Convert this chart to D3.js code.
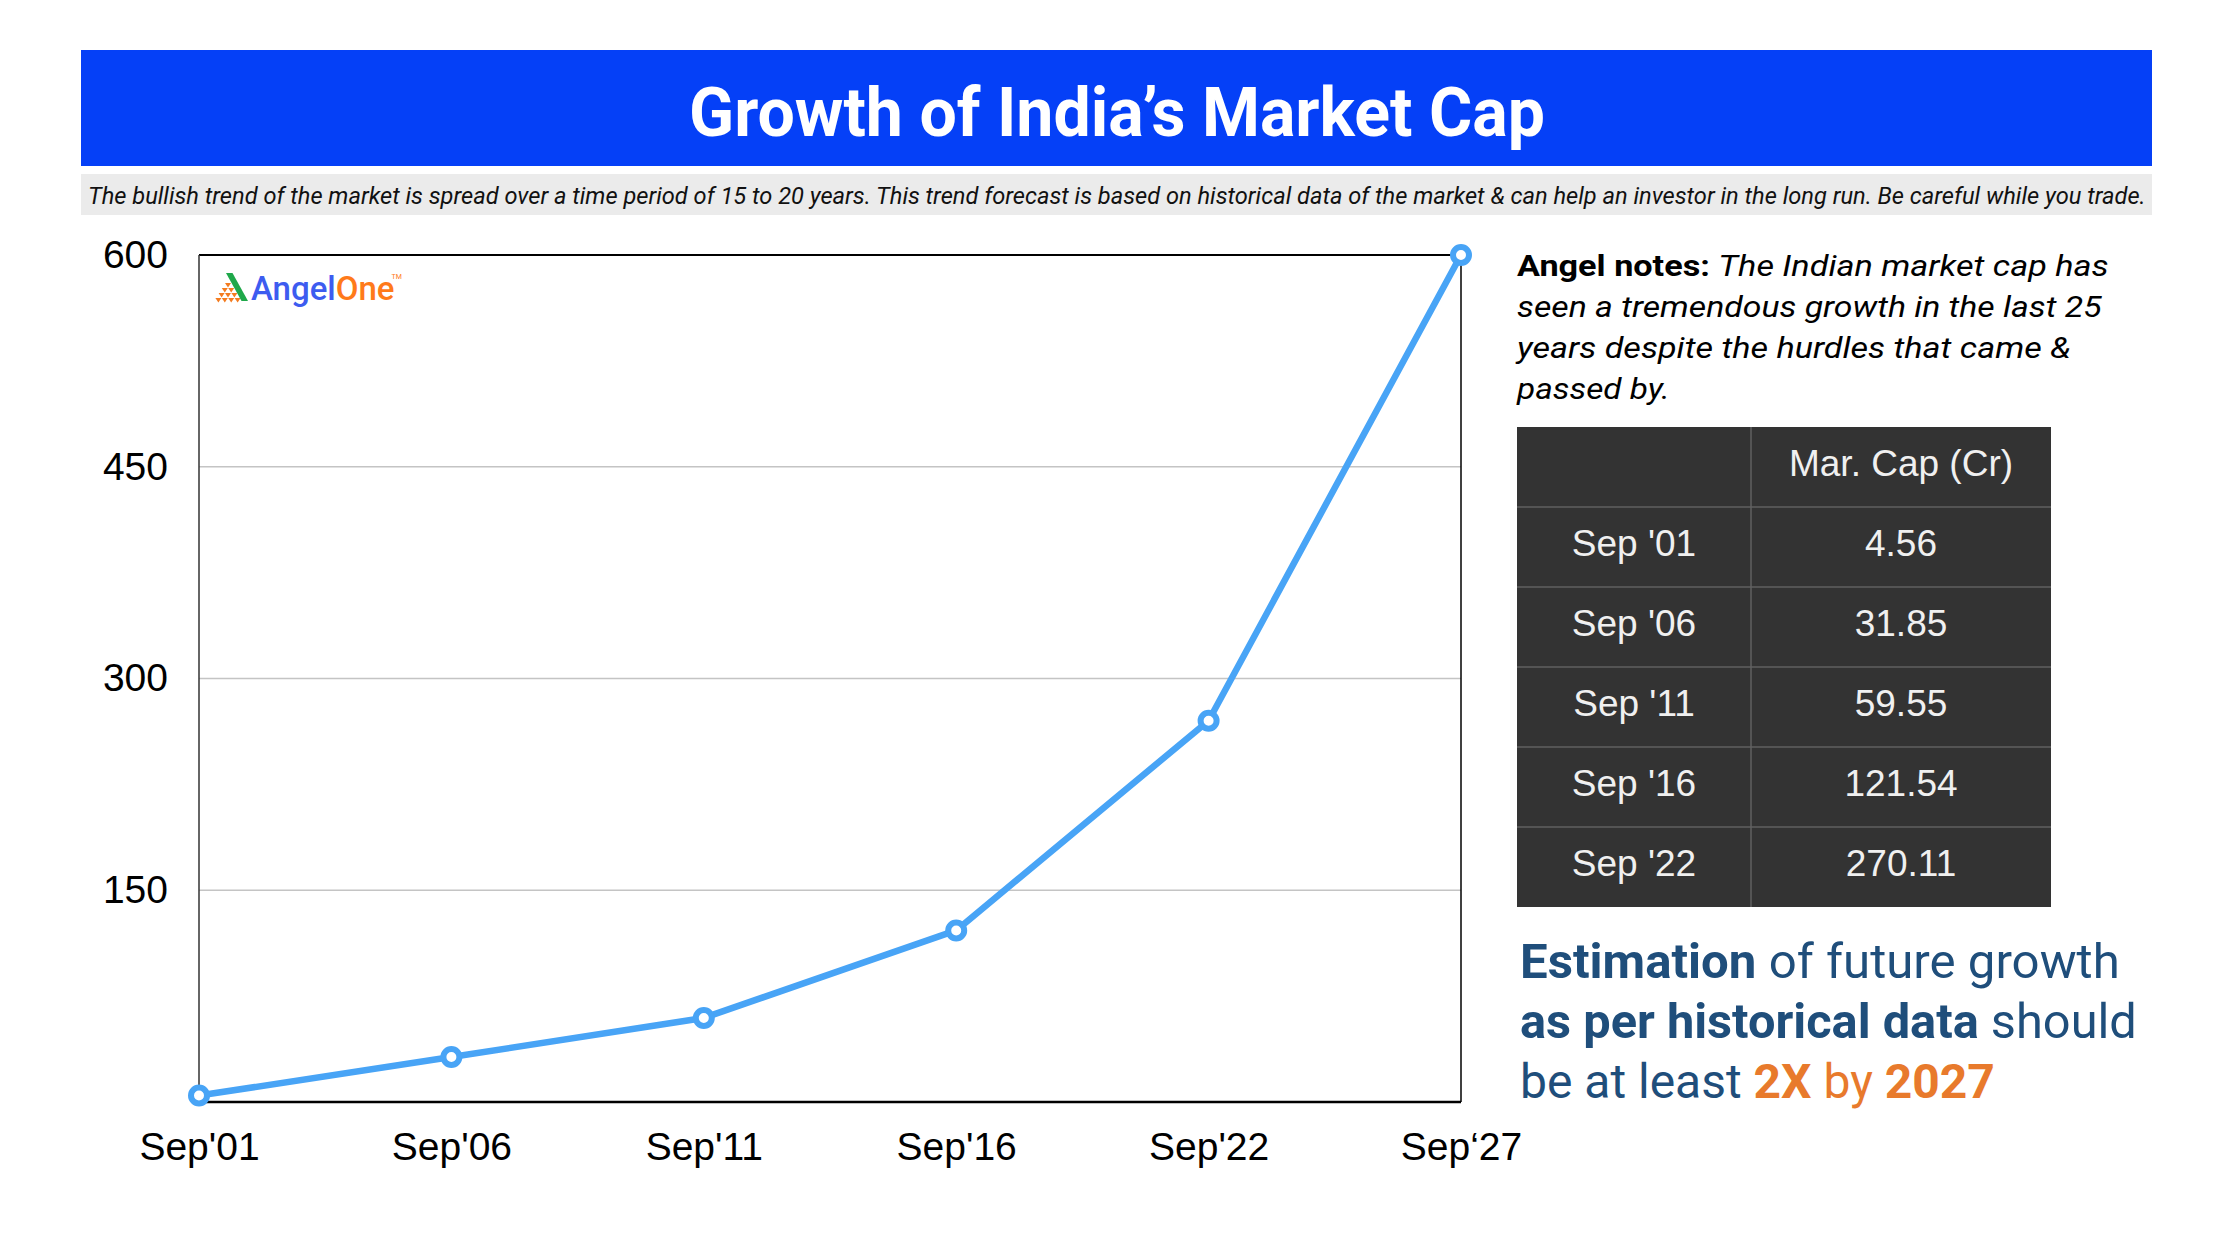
<!DOCTYPE html>
<html lang="en">
<head>
  <meta charset="utf-8">
  <script src="https://d3js.org/d3.v7.min.js"></script>
  <style>
    body { margin: 0; background: #ffffff; }
    svg { display: block; }
  </style>
</head>
<body>
  <script type="text/javascript">
    // chart data
    var categories = ["Sep'01", "Sep'06", "Sep'11", "Sep'16", "Sep'22", "Sep\u201827"];
    var marketCap = [4.56, 31.85, 59.55, 121.54, 270.11, 600];
    var yTicks = [150, 300, 450, 600];

    // table data
    var tableHeader = ["", "Mar. Cap (Cr)"];
    var tableLabels = ["Sep '01", "Sep '06", "Sep '11", "Sep '16", "Sep '22"];
    var tableValues = ["4.56", "31.85", "59.55", "121.54", "270.11"];

    // layout
    var dim = {
      width: 2238,
      height: 1252,
      left: 199,
      right: 1461,
      top: 255,
      bottom: 1102,
      lineColor: "#48a4f6"
    };

    var svg = d3.select("body")
      .append("svg")
      .attr("width", dim.width)
      .attr("height", dim.height);

    // squeeze a text element horizontally so it fits a width
    function fitWidth(sel, x, y, target) {
      var w = sel.node().getComputedTextLength();
      var s = target / w;
      sel.attr("x", 0).attr("y", 0)
        .attr("transform", "translate(" + x + "," + y + ") scale(" + s + ",1)");
    }

    // title banner
    svg.append("rect")
      .attr("x", 81).attr("y", 50)
      .attr("width", 2071).attr("height", 116)
      .attr("fill", "#0540f7");

    var title = svg.append("text")
      .attr("text-anchor", "middle")
      .style("font-family", "Roboto")
      .style("font-weight", "bold")
      .style("font-size", "69px")
      .attr("fill", "#ffffff")
      .text("Growth of India\u2019s Market Cap");
    fitWidth(title, 1117, 136, 856);

    // subtitle band
    svg.append("rect")
      .attr("x", 81).attr("y", 174)
      .attr("width", 2071).attr("height", 41)
      .attr("fill", "#ebebeb");

    var sub = svg.append("text")
      .style("font-family", "Roboto")
      .style("font-style", "italic")
      .style("font-size", "24px")
      .attr("fill", "#111111")
      .text("The bullish trend of the market is spread over a time period of 15 to 20 years. This trend forecast is based on historical data of the market & can help an investor in the long run. Be careful while you trade.");
    fitWidth(sub, 88, 204, 2059);

    // scales
    var xScale = d3.scalePoint()
      .domain(categories)
      .range([dim.left, dim.right]);

    var yScale = d3.scaleLinear()
      .domain([0, 600])
      .range([dim.bottom, dim.top]);

    // gridlines
    svg.selectAll(".grid")
      .data(yTicks.filter(function(d) { return d < 600; }))
      .enter()
      .append("line")
      .attr("class", "grid")
      .attr("x1", dim.left).attr("x2", dim.right)
      .attr("y1", function(d) { return yScale(d); })
      .attr("y2", function(d) { return yScale(d); })
      .attr("stroke", "#c4c4c4")
      .attr("stroke-width", 1.5);

    // frame
    svg.append("line")
      .attr("x1", dim.left).attr("x2", dim.right)
      .attr("y1", dim.top).attr("y2", dim.top)
      .attr("stroke", "#000").attr("stroke-width", 2);
    svg.append("line")
      .attr("x1", dim.right).attr("x2", dim.right)
      .attr("y1", dim.top).attr("y2", dim.bottom)
      .attr("stroke", "#000").attr("stroke-width", 1.5);
    svg.append("line")
      .attr("x1", dim.left).attr("x2", dim.left)
      .attr("y1", dim.top).attr("y2", dim.bottom)
      .attr("stroke", "#333").attr("stroke-width", 1.5);
    svg.append("line")
      .attr("x1", dim.left).attr("x2", dim.right)
      .attr("y1", dim.bottom).attr("y2", dim.bottom)
      .attr("stroke", "#000").attr("stroke-width", 2.5);

    // y axis
    var yAxis = d3.axisLeft(yScale)
      .tickValues(yTicks)
      .tickSize(0)
      .tickPadding(31);

    svg.append("g")
      .attr("transform", "translate(" + dim.left + ",0)")
      .call(yAxis)
      .call(function(g) { g.select(".domain").remove(); })
      .selectAll("text")
      .style("font-family", "'Liberation Sans', Arial")
      .style("font-size", "39px")
      .attr("fill", "#000");

    // x axis
    var xAxis = d3.axisBottom(xScale)
      .tickSize(0)
      .tickPadding(30);

    svg.append("g")
      .attr("transform", "translate(0," + dim.bottom + ")")
      .call(xAxis)
      .call(function(g) { g.select(".domain").remove(); })
      .selectAll("text")
      .style("font-family", "'Liberation Sans', Arial")
      .style("font-size", "39px")
      .attr("fill", "#000");

    // logo
    var logo = svg.append("g");
    for (var r = 0; r < 4; r++) {
      for (var c = 0; c <= r; c++) {
        var cx = 228 - r * 3.2 + c * 6.4;
        var cy = 283 + r * 5;
        logo.append("path")
          .attr("d", "M" + (cx - 3) + "," + cy + "L" + (cx + 3) + "," + cy + "L" + cx + "," + (cy + 4.5) + "Z")
          .attr("fill", "#f47c20");
      }
    }
    logo.append("path")
      .attr("d", "M226,273L232.5,273L248,301L241.5,301Z")
      .attr("fill", "#1fa84a");
    var logoText = logo.append("text")
      .attr("x", 251).attr("y", 300)
      .style("font-family", "Roboto")
      .style("font-weight", "500")
      .style("font-size", "33px");
    logoText.append("tspan").attr("fill", "#3d5cf0").text("Angel");
    logoText.append("tspan").attr("fill", "#ff7a1a").text("One");
    logo.append("text")
      .attr("x", 251 + logoText.node().getComputedTextLength() - 3).attr("y", 279)
      .style("font-family", "Roboto")
      .style("font-size", "7px")
      .attr("fill", "#ff7a1a")
      .text("TM");

    // line
    var line = d3.line()
      .x(function(d, i) { return xScale(categories[i]); })
      .y(function(d) { return yScale(d); });

    svg.append("path")
      .datum(marketCap)
      .attr("d", line)
      .attr("fill", "none")
      .attr("stroke", dim.lineColor)
      .attr("stroke-width", 6.5)
      .attr("stroke-linejoin", "round");

    svg.selectAll(".dot")
      .data(marketCap)
      .enter()
      .append("circle")
      .attr("class", "dot")
      .attr("cx", function(d, i) { return xScale(categories[i]); })
      .attr("cy", function(d) { return yScale(d); })
      .attr("r", 8)
      .attr("fill", "#ffffff")
      .attr("stroke", dim.lineColor)
      .attr("stroke-width", 6);

    // angel notes
    var notes = [
      { bold: "Angel notes: ", ital: "The Indian market cap has", w: 592 },
      { bold: "", ital: "seen a tremendous growth in the last 25", w: 585 },
      { bold: "", ital: "years despite the hurdles that came &", w: 554 },
      { bold: "", ital: "passed by.", w: 153 }
    ];
    notes.forEach(function(n, i) {
      var t = svg.append("text")
        .style("font-family", "Roboto")
        .style("font-size", "30px")
        .attr("fill", "#000");
      if (n.bold) {
        t.append("tspan").style("font-weight", "bold").text(n.bold);
      }
      t.append("tspan").style("font-style", "italic").text(n.ital);
      fitWidth(t, 1517, 276 + i * 41, n.w);
    });

    // table
    var table = svg.append("g");
    var tab = { x: 1517, y: 427, col: 234, w: 534, rowH: 80 };
    var rows = [tableHeader].concat(tableLabels.map(function(d, i) {
      return [d, tableValues[i]];
    }));

    table.append("rect")
      .attr("x", tab.x).attr("y", tab.y)
      .attr("width", tab.w).attr("height", tab.rowH * rows.length)
      .attr("fill", "#333333");

    table.selectAll(".hline")
      .data(d3.range(1, rows.length))
      .enter()
      .append("line")
      .attr("x1", tab.x).attr("x2", tab.x + tab.w)
      .attr("y1", function(d) { return tab.y + d * tab.rowH; })
      .attr("y2", function(d) { return tab.y + d * tab.rowH; })
      .attr("stroke", "#606060")
      .attr("stroke-width", 1.5);

    table.append("line")
      .attr("x1", tab.x + tab.col).attr("x2", tab.x + tab.col)
      .attr("y1", tab.y).attr("y2", tab.y + tab.rowH * rows.length)
      .attr("stroke", "#606060")
      .attr("stroke-width", 1.5);

    rows.forEach(function(row, i) {
      row.forEach(function(cell, j) {
        var cx = j === 0 ? tab.x + tab.col / 2 : tab.x + tab.col + (tab.w - tab.col) / 2;
        table.append("text")
          .attr("x", cx)
          .attr("y", tab.y + i * tab.rowH + 49)
          .attr("text-anchor", "middle")
          .style("font-family", "'Liberation Sans', Arial")
          .style("font-size", "37px")
          .attr("fill", "#f0f0f0")
          .text(cell);
      });
    });

    // estimation text
    var est = [
      { parts: [["Estimation", "bold", "#1f4e7b"], [" of future growth", "normal", "#1f4e7b"]], w: 600 },
      { parts: [["as per historical data", "bold", "#1f4e7b"], [" should", "normal", "#1f4e7b"]], w: 617 },
      { parts: [["be at least ", "normal", "#1f4e7b"], ["2X", "bold", "#e87a2c"], [" by ", "normal", "#e87a2c"], ["2027", "bold", "#e87a2c"]], w: 475 }
    ];
    est.forEach(function(l, i) {
      var t = svg.append("text")
        .style("font-family", "Roboto")
        .style("font-size", "48px");
      l.parts.forEach(function(p) {
        t.append("tspan")
          .style("font-weight", p[1])
          .attr("fill", p[2])
          .text(p[0]);
      });
      fitWidth(t, 1520, 978 + i * 60, l.w);
    });
  </script>
</body>
</html>
